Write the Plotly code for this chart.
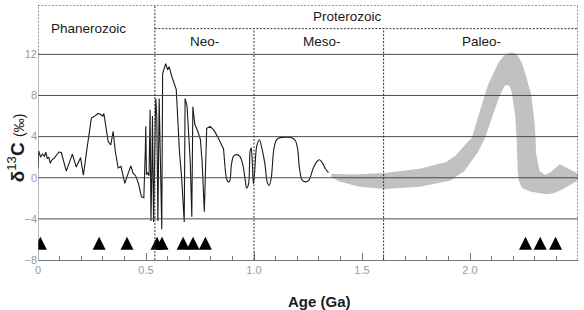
import plotly.graph_objects as go

# ---------------- data ----------------
# Phanerozoic + Neoproterozoic record (black line)
neo_age = [0.000, 0.003, 0.012, 0.020, 0.030, 0.036, 0.043, 0.050, 0.057, 0.063,
           0.077, 0.097, 0.108, 0.131, 0.159, 0.177, 0.197, 0.210, 0.227, 0.247,
           0.260, 0.278, 0.290, 0.300, 0.305, 0.317, 0.325, 0.337, 0.348, 0.358,
           0.371, 0.384, 0.402, 0.417, 0.430, 0.440, 0.452, 0.465, 0.479, 0.490,
           0.494, 0.497, 0.499, 0.502, 0.508, 0.514, 0.519, 0.523, 0.527, 0.530,
           0.535, 0.540, 0.545, 0.550, 0.555, 0.561, 0.566, 0.573, 0.577, 0.591,
           0.600, 0.607, 0.620, 0.633, 0.640, 0.655, 0.665, 0.677, 0.681, 0.690,
           0.700, 0.705, 0.712, 0.717, 0.726, 0.740, 0.752, 0.760, 0.770, 0.775,
           0.781, 0.797, 0.815, 0.831, 0.848, 0.859, 0.866]
neo_d13c = [0.9, 2.6, 2.0, 2.3, 2.1, 2.5, 1.85, 2.0, 1.4, 1.7,
            1.95, 2.5, 2.45, 0.65, 2.3, 1.05, 1.95, 0.25, 2.85, 5.8,
            5.95, 6.25, 6.15, 6.0, 6.25, 4.8, 3.5, 3.2, 4.5, 2.55,
            0.95, 1.1, -0.55, 0.4, 1.15, 0.45, 0.2, -0.55, -1.85, -1.95,
            0.0, 2.8, 5.0, 0.3, 0.5, 0.2, 6.6, -4.2, 0.5, 6.0,
            -4.3, 1.0, 7.7, 6.0, -4.2, 7.7, 1.0, -5.0, 10.1, 11.1,
            10.5, 10.8, 9.8, 9.0, 8.6, 2.5, 0.0, -4.3, 7.7, 7.0,
            3.0, 1.5, -3.8, 6.9, 5.2, 4.5, 3.7, 1.5, -3.3, 1.0,
            4.8, 5.0, 4.6, 4.0, 3.2, 2.8, 1.0]

# Late Neo- / Mesoproterozoic record (smooth black line)
meso_age = [0.866, 0.872, 0.880, 0.888, 0.895, 0.905, 0.920, 0.935, 0.948, 0.958,
            0.966, 0.975, 0.982, 0.987, 0.992, 0.997, 1.003, 1.012, 1.025, 1.035,
            1.050, 1.062, 1.070, 1.080, 1.092, 1.105, 1.120, 1.150, 1.175, 1.192,
            1.202, 1.210, 1.222, 1.237, 1.255, 1.272, 1.290, 1.303, 1.315, 1.330,
            1.345]
meso_d13c = [1.0, 0.0, -0.4, -0.3, 1.2, 2.1, 2.25, 2.05, 1.3, 0.0,
             -1.0, -0.6, 2.6, 2.9, 1.5, -0.6, 0.5, 3.0, 3.7, 3.0,
             1.4, -0.5, -0.75, 0.0, 2.8, 3.7, 3.9, 3.95, 3.9, 3.6,
             2.8, 1.0, -0.2, -0.4, -0.2, 0.8, 1.55, 1.75, 1.5, 0.9,
             0.5]

# Paleoproterozoic envelope (grey band outline)
band_age = [1.359, 1.459, 1.606, 1.768, 1.892, 1.938, 1.984, 2.015, 2.050, 2.090,
            2.138, 2.162, 2.185, 2.203, 2.216, 2.232, 2.246, 2.277, 2.293, 2.300,
            2.316, 2.347, 2.378, 2.416, 2.500, 2.500, 2.447, 2.415, 2.385, 2.355,
            2.324, 2.280, 2.246, 2.232, 2.228, 2.223, 2.216, 2.200, 2.190, 2.177,
            2.165, 2.154, 2.131, 2.100, 2.061, 2.030, 1.968, 1.907, 1.768, 1.606,
            1.490, 1.397, 1.359]
band_d13c = [0.25, 0.16, 0.32, 0.74, 1.39, 2.04, 3.17, 3.82, 6.3, 9.0,
             11.12, 11.75, 12.02, 12.0, 11.77, 11.2, 10.31, 8.04, 5.12, 2.2,
             0.58, 0.1, 0.42, 1.13, 0.25, -0.08, -0.72, -1.1, -1.36, -1.45,
             -1.36, -1.2, -0.88, -0.2, 0.58, 3.82, 6.09, 8.37, 8.95, 9.17,
             9.15, 9.0, 8.04, 6.09, 3.82, 2.53, 0.74, -0.13, -0.72, -0.94,
             -0.72, -0.23, 0.25]

# Events (triangles)
event_age = [0.011, 0.283, 0.412, 0.551, 0.574, 0.672, 0.718, 0.775, 2.257, 2.325, 2.396]
event_level = -5.75

# Axis ticks
x_ticks = [0, 0.5, 1.0, 1.5, 2.0, 2.5]
x_ticktext = ["0", "0.5", "1.0", "1.5", "2.0", "2.5"]
y_ticks = [-8, -4, 0, 4, 8, 12]
y_ticktext = ["\u22128", "\u22124", "0", "4", "8", "12"]
grid_levels = [12, 8, 4, 0, -4]

# Eon / era boundaries and header levels
phan_end = 0.541
neo_end = 1.0
meso_end = 1.6
age_max = 2.5
header_top = 16.8
header_mid = 14.5
y_min = -8

FONT = "Liberation Sans, Arial, sans-serif"
GRID = "#4d4d4d"
DASH = "#333333"
BAND = "#c3c1bf"

fig = go.Figure()

fig.add_trace(go.Scatter(x=band_age, y=band_d13c, mode="lines", fill="toself",
                         fillcolor=BAND, line=dict(color=BAND, width=3),
                         hoverinfo="skip", showlegend=False))
fig.add_trace(go.Scatter(x=neo_age, y=neo_d13c, mode="lines",
                         line=dict(color="#1a1a1a", width=1.1), showlegend=False))
fig.add_trace(go.Scatter(x=meso_age, y=meso_d13c, mode="lines",
                         line=dict(color="#1a1a1a", width=1.1, shape="spline", smoothing=0.8),
                         showlegend=False))
fig.add_trace(go.Scatter(x=event_age, y=[event_level] * len(event_age), mode="markers",
                         marker=dict(symbol="arrow-up", size=13, color="black",
                                     line=dict(width=0)),
                         showlegend=False))

shapes = []
for g in grid_levels:
    shapes.append(dict(type="line", xref="x", yref="y", x0=0, x1=age_max, y0=g, y1=g,
                       line=dict(color=GRID, width=1), layer="above"))
# left axis line
shapes.append(dict(type="line", xref="x", yref="y", x0=0, x1=0, y0=y_min, y1=12,
                   line=dict(color="#777777", width=1), layer="above"))
dash = "2px,1.5px"
for (x0, x1, y0, y1) in [
    (0, age_max, header_top, header_top),
    (phan_end, age_max, header_mid, header_mid),
    (0, 0, 12, header_top),
    (age_max, age_max, y_min, header_top),
    (phan_end, phan_end, y_min, header_top),
    (neo_end, neo_end, y_min, header_mid),
    (meso_end, meso_end, y_min, header_mid),
]:
    shapes.append(dict(type="line", xref="x", yref="y", x0=x0, x1=x1, y0=y0, y1=y1,
                       line=dict(color=DASH, width=1, dash=dash), layer="above"))

annotations = [
    dict(x=0.232, y=14.5, text="Phanerozoic"),
    dict(x=1.435, y=15.7, text="Proterozoic"),
    dict(x=0.772, y=13.23, text="Neo-"),
    dict(x=1.316, y=13.23, text="Meso-"),
    dict(x=2.054, y=13.23, text="Paleo-"),
]
for a in annotations:
    a.update(xref="x", yref="y", showarrow=False, xanchor="center", yanchor="middle",
             font=dict(family=FONT, size=13.5, color="#1a1a1a"))

annotations.append(dict(xref="paper", yref="paper", x=0.522, y=-0.162, showarrow=False,
                        xanchor="center", yanchor="middle", text="<b>Age (Ga)</b>",
                        font=dict(family=FONT, size=15, color="#1a1a1a")))
annotations.append(dict(xref="paper", yref="y", x=-0.04, y=2.9, showarrow=False,
                        xanchor="center", yanchor="middle", textangle=-90,
                        text="<b>\u03b4</b><sup>13</sup><b>C</b> <span style='font-size:14px'>(\u2030)</span>",
                        font=dict(family=FONT, size=19, color="#1a1a1a")))

fig.update_layout(
    width=584, height=310,
    margin=dict(l=38, r=6, t=5, b=50),
    paper_bgcolor="white", plot_bgcolor="white",
    shapes=shapes, annotations=annotations,
    xaxis=dict(range=[0, age_max], tickvals=x_ticks, ticktext=x_ticktext,
               ticks="inside", ticklen=7, tickcolor="#777777", tickwidth=1,
               minor=dict(dtick=0.1, ticks="inside", ticklen=4, tickcolor="#777777", tickwidth=1),
               showline=True, linecolor="#777777", linewidth=1, showgrid=False,
               zeroline=False, tickfont=dict(family=FONT, size=11, color="#999999")),
    yaxis=dict(range=[y_min, header_top], tickvals=y_ticks, ticktext=y_ticktext,
               ticks="", showline=False, showgrid=False, zeroline=False,
               tickfont=dict(family=FONT, size=11, color="#999999")),
)

fig.write_html("out.html")
